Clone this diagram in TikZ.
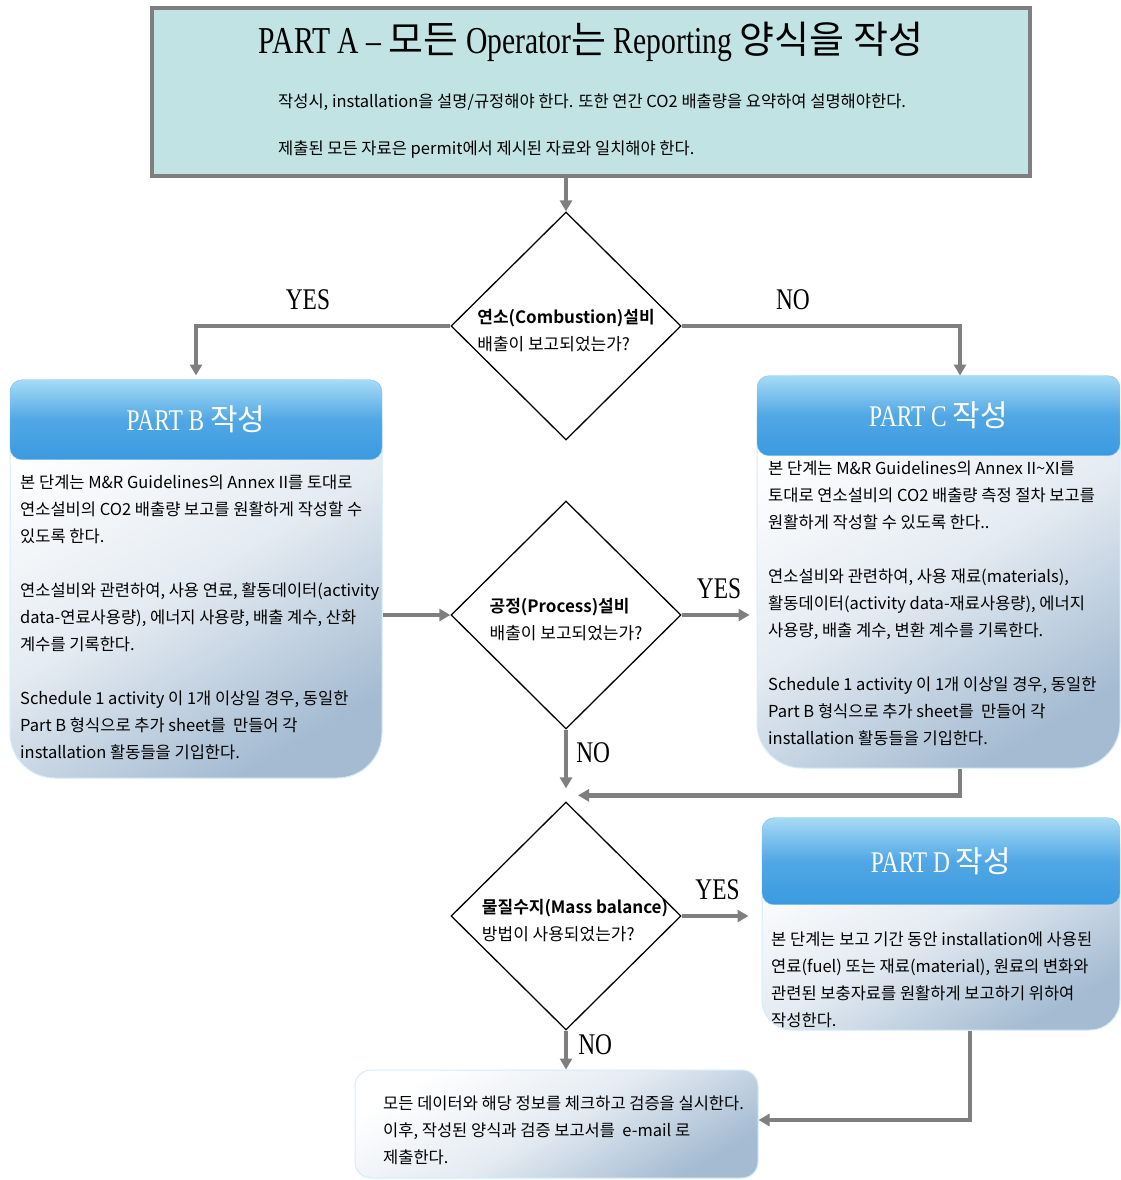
\documentclass[tikz,border=0pt]{standalone}
\usepackage{fontspec}
\setmainfont{Noto Sans CJK KR}[BoldFont={Noto Sans CJK KR Bold}]
\newfontfamily\titlefont[FakeStretch=0.78]{Liberation Serif}
\usepackage{xcolor}
\definecolor{linegray}{HTML}{7F7F7F}
\definecolor{partafill}{HTML}{C1E3E3}
\definecolor{headtop}{HTML}{A6DBF6}
\definecolor{headbottom}{HTML}{3B9AE0}
\definecolor{bodyblue}{HTML}{A4BBD2}
\definecolor{glow}{HTML}{D4ECFA}
\usetikzlibrary{shapes.geometric, arrows.meta, positioning, calc}

\begin{document}
\begin{tikzpicture}[
        x=1pt, y=1pt,
        part_a_node/.style={
            rectangle,
            draw=linegray,
            line width=4pt,
            fill=partafill,
            minimum width=878pt,
            minimum height=168pt
        },
        body_node/.style={
            rectangle,
            rounded corners=45pt,
            draw=glow,
            line width=1pt,
            top color=white,
            bottom color=bodyblue,
            middle color=bodyblue!30,
            shading angle=30
        },
        head_node/.style={
            rectangle,
            rounded corners=12pt,
            draw=headbottom!60,
            top color=headtop,
            bottom color=headbottom,
            middle color=headbottom!80!headtop,
            minimum height=80pt,
            text=white,
            font=\titlefont\fontsize{30}{30}\selectfont
        },
        dec_node/.style={
            diamond,
            draw=black,
            line width=1.3pt,
            fill=white,
            inner sep=0pt,
            minimum width=230pt,
            minimum height=228pt
        },
        dec_text/.style={
            align=left,
            inner sep=0pt,
            font=\fontsize{17}{27}\selectfont
        },
        body_text/.style={
            anchor=north west,
            align=left,
            inner sep=0pt,
            font=\fontsize{16.5}{27}\selectfont
        },
        yn_label/.style={
            inner sep=0pt,
            font=\titlefont\fontsize{30}{30}\selectfont
        },
        arrow/.style={
            -{Triangle[length=11pt, width=12pt]},
            draw=linegray,
            line width=4.5pt
        }
    ]
    \useasboundingbox (0,0) rectangle (1120,-1180);

    % Part A (Top)
    \node[part_a_node] (parta) at (591,-92) {};
    \node[font=\titlefont\fontsize{38}{40}\selectfont] (partatitle) at (591,-42)
        {PART A – {\rmfamily 모든} Operator{\rmfamily 는} Reporting {\rmfamily 양식을 작성}};
    \node[font=\fontsize{16.5}{20}\selectfont, anchor=west, inner sep=0pt] (partaline1) at (278,-102)
        {작성시, installation을 설명/규정해야 한다. 또한 연간 CO2 배출량을 요약하여 설명해야한다.};
    \node[font=\fontsize{16.5}{20}\selectfont, anchor=west, inner sep=0pt] (partaline2) at (278,-150)
        {제출된 모든 자료은 permit에서 제시된 자료와 일치해야 한다.};

    % Decisions (Center)
    \node[dec_node] (dec1) at (566,-326) {};
    \node[dec_text, yshift=-5pt] (dec1text) at (dec1) {{\bfseries 연소(Combustion)설비}\\배출이 보고되었는가?};
    \node[dec_node] (dec2) at (566,-615) {};
    \node[dec_text, yshift=-5pt] (dec2text) at (dec2) {{\bfseries 공정(Process)설비}\\배출이 보고되었는가?};
    \node[dec_node] (dec3) at (566,-916) {};
    \node[dec_text, yshift=-5pt, xshift=9pt] (dec3text) at (dec3) {{\bfseries 물질수지(Mass balance)}\\방법이 사용되었는가?};

    % Part B (Left)
    \node[body_node, minimum width=372pt, minimum height=398pt] (partb) at (196,-579) {};
    \node[head_node, anchor=north, minimum width=372pt] (partbhead) at (partb.north) {PART B {\rmfamily 작성}};
    \node[body_text] (partbtext) at (20,-475) {본 단계는 M\&R Guidelines의 Annex II를 토대로\\
        연소설비의 CO2 배출량 보고를 원활하게 작성할 수\\
        있도록 한다.\\[27pt]
        연소설비와 관련하여, 사용 연료, 활동데이터(activity\\
        data-연료사용량), 에너지 사용량, 배출 계수, 산화\\
        계수를 기록한다.\\[27pt]
        Schedule 1 activity 이 1개 이상일 경우, 동일한\\
        Part B 형식으로 추가 sheet를~ 만들어 각\\
        installation 활동들을 기입한다.};

    % Part C (Right)
    \node[body_node, minimum width=363pt, minimum height=392pt] (partc) at (938.5,-572) {};
    \node[head_node, anchor=north, minimum width=363pt] (partchead) at (partc.north) {PART C {\rmfamily 작성}};
    \node[body_text] (partctext) at (768,-461) {본 단계는 M\&R Guidelines의 Annex II{\textasciitilde}XI를\\
        토대로 연소설비의 CO2 배출량 측정 절차 보고를\\
        원활하게 작성할 수 있도록 한다..\\[27pt]
        연소설비와 관련하여, 사용 재료(materials),\\
        활동데이터(activity data-재료사용량), 에너지\\
        사용량, 배출 계수, 변환 계수를 기록한다.\\[27pt]
        Schedule 1 activity 이 1개 이상일 경우, 동일한\\
        Part B 형식으로 추가 sheet를~ 만들어 각\\
        installation 활동들을 기입한다.};

    % Part D (Lower right)
    \node[body_node, rounded corners=30pt, minimum width=358pt, minimum height=212pt] (partd) at (941,-924) {};
    \node[head_node, anchor=north, minimum width=358pt, minimum height=87pt] (partdhead) at (partd.north) {PART D {\rmfamily 작성}};
    \node[body_text] (partdtext) at (771,-932) {본 단계는 보고 기간 동안 installation에 사용된\\
        연료(fuel) 또는 재료(material), 원료의 변화와\\
        관련된 보충자료를 원활하게 보고하기 위하여\\
        작성한다.};

    % Final check (Bottom)
    \node[body_node, rounded corners=16pt, minimum width=403pt, minimum height=108pt] (final) at (556.5,-1124) {};
    \node[body_text] (finaltext) at (383,-1096) {모든 데이터와 해당 정보를 체크하고 검증을 실시한다.\\
        이후, 작성된 양식과 검증 보고서를~ e-mail 로\\
        제출한다.};

    % Arrows
    \draw[arrow] (parta.south -| dec1.north) -- (dec1.north);
    \draw[arrow, shorten >=4pt] (dec1.west) -| (partb.north)
        node[yn_label, pos=0.28, above=14pt] {YES};
    \draw[arrow] (dec1.east) -| ([xshift=21.5pt]partc.north)
        node[yn_label, pos=0.2, above=14pt] {NO};

    \draw[arrow] (partb.east |- dec2.west) -- (dec2.west);
    \draw[arrow, shorten >=7pt] (dec2.east) -- (dec2.east -| partc.west)
        node[yn_label, midway, above=14pt] {YES};
    \draw[arrow] (dec2.south) -- ([yshift=13pt]dec3.north)
        node[yn_label, pos=0.4, right=8pt] {NO};
    \draw[arrow] ([xshift=21.5pt]partc.south) |- ([xshift=12pt, yshift=6pt]dec3.north);

    \draw[arrow, shorten >=13pt] (dec3.east) -- (dec3.east -| partd.west)
        node[yn_label, pos=0.45, above=14pt] {YES};
    \draw[arrow] (dec3.south) -- (dec3.south |- final.north)
        node[yn_label, pos=0.35, right=10pt] {NO};
    \draw[arrow] ([xshift=29pt]partd.south) |- ([yshift=4pt]final.east);

    \end{tikzpicture}
\end{document}
